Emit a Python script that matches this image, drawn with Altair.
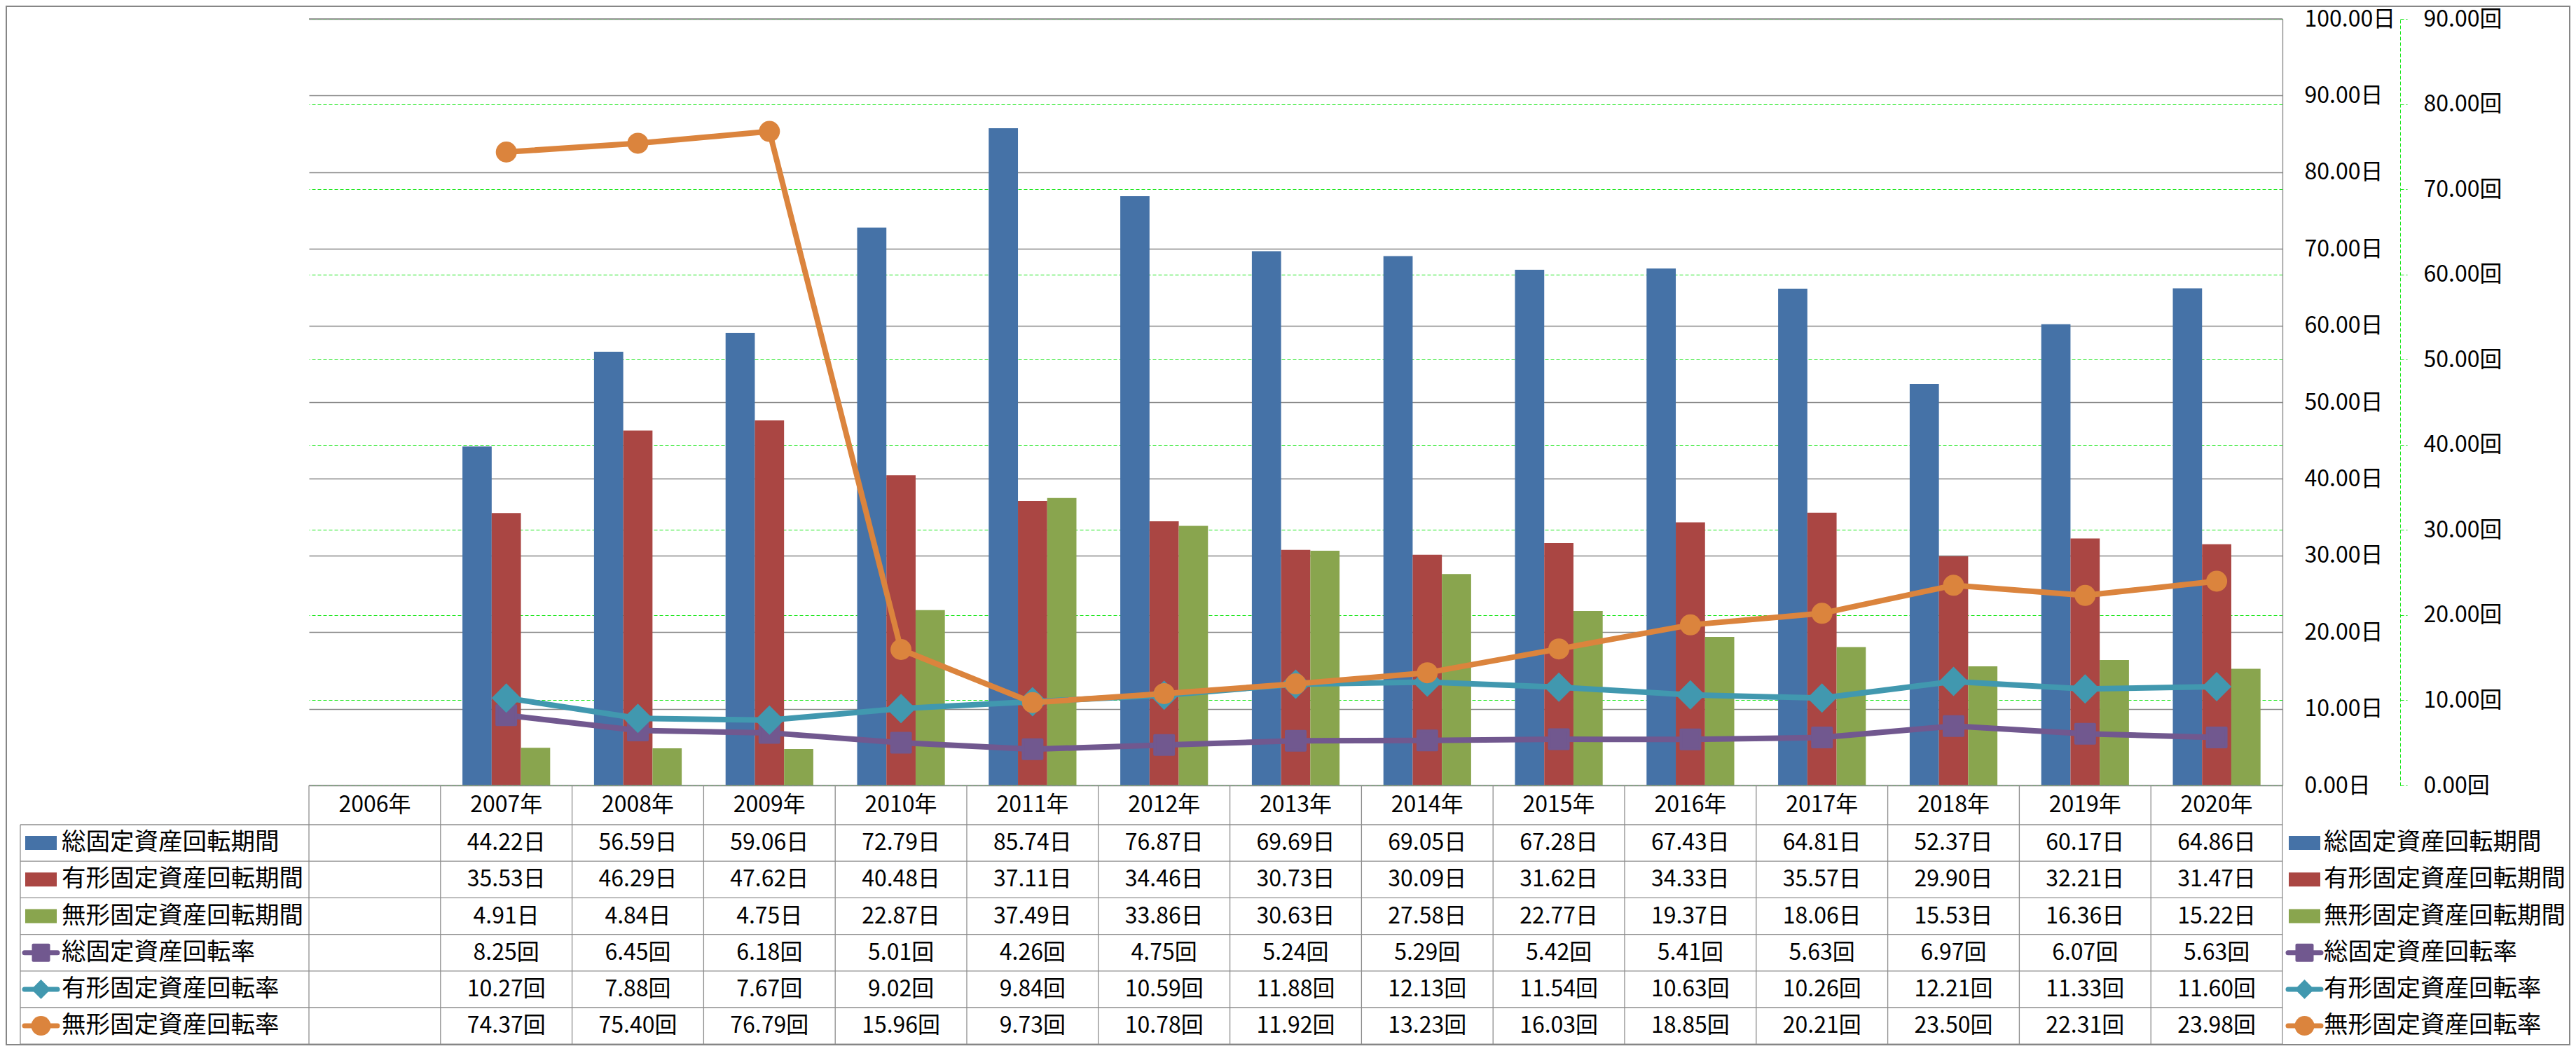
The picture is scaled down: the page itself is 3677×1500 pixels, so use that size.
import altair as alt
import pandas as pd

# ---------------- data ----------------
years = ["2006年", "2007年", "2008年", "2009年", "2010年", "2011年", "2012年", "2013年",
         "2014年", "2015年", "2016年", "2017年", "2018年", "2019年", "2020年"]

bar_series = ["総固定資産回転期間", "有形固定資産回転期間", "無形固定資産回転期間"]
line_series = ["総固定資産回転率", "有形固定資産回転率", "無形固定資産回転率"]

total_period = [None, 44.22, 56.59, 59.06, 72.79, 85.74, 76.87, 69.69, 69.05, 67.28, 67.43, 64.81, 52.37, 60.17, 64.86]
tangible_period = [None, 35.53, 46.29, 47.62, 40.48, 37.11, 34.46, 30.73, 30.09, 31.62, 34.33, 35.57, 29.90, 32.21, 31.47]
intangible_period = [None, 4.91, 4.84, 4.75, 22.87, 37.49, 33.86, 30.63, 27.58, 22.77, 19.37, 18.06, 15.53, 16.36, 15.22]

total_rate = [None, 8.25, 6.45, 6.18, 5.01, 4.26, 4.75, 5.24, 5.29, 5.42, 5.41, 5.63, 6.97, 6.07, 5.63]
tangible_rate = [None, 10.27, 7.88, 7.67, 9.02, 9.84, 10.59, 11.88, 12.13, 11.54, 10.63, 10.26, 12.21, 11.33, 11.60]
intangible_rate = [None, 74.37, 75.40, 76.79, 15.96, 9.73, 10.78, 11.92, 13.23, 16.03, 18.85, 20.21, 23.50, 22.31, 23.98]

day_ticks = [0, 10, 20, 30, 40, 50, 60, 70, 80, 90, 100]
kai_ticks = [0, 10, 20, 30, 40, 50, 60, 70, 80, 90]

bar_colors = ["#4572A7", "#AA4643", "#89A54E"]
line_colors = ["#71588F", "#4198AF", "#DB843D"]
line_shapes = ["square", "diamond", "circle"]

# ---------------- layout constants ----------------
FONT = "Noto Sans CJK JP"
FS = 32
FS_LABEL = 34.5
W, H = 2817, 1094
PAD = {"left": 433, "top": 19, "right": 411, "bottom": 371}
STEP = W / len(years)
HEAD_BOTTOM = H + 56
ROW_H = 52.2
TABLE_BOTTOM = HEAD_BOTTOM + 6 * ROW_H
LABEL_LEFT = -412
GRID_GRAY = "#878787"
TABLE_GRAY = "#8E8E8E"
GREEN = "#19E619"

xscale = alt.Scale(domain=years, paddingInner=1 / 3, paddingOuter=1 / 6)
dummy = pd.DataFrame({"k": [0]})

# ---------------- bars ----------------
bar_values = [total_period, tangible_period, intangible_period]
bar_rows = []
for s, vals in zip(bar_series, bar_values):
    for y, v in zip(years, vals):
        if v is not None:
            bar_rows.append({"year": y, "series": s, "value": v})
bar_df = pd.DataFrame(bar_rows)

bars = alt.Chart(bar_df).mark_bar().encode(
    x=alt.X("year:N", scale=xscale, axis=None),
    xOffset=alt.XOffset("series:N", scale=alt.Scale(domain=bar_series, paddingInner=0, paddingOuter=0)),
    y=alt.Y("value:Q", scale=alt.Scale(domain=[0, 100], nice=False),
            axis=alt.Axis(orient="right", values=day_ticks, title=None,
                          labelExpr="format(datum.value, '.2f') + '日'",
                          grid=True, gridColor=GRID_GRAY, gridWidth=1.3,
                          domain=True, domainColor=GRID_GRAY, domainWidth=1.3,
                          ticks=False, tickSize=0, labelPadding=31,
                          labelFont=FONT, labelFontSize=FS, labelColor="#000000",
                          labelOverlap=False)),
    color=alt.Color("series:N", scale=alt.Scale(domain=bar_series, range=bar_colors), legend=None),
)

# ---------------- lines ----------------
rate_values = [total_rate, tangible_rate, intangible_rate]
kai_axis = alt.Axis(orient="right", offset=168, values=kai_ticks, title=None,
                    labelExpr="format(datum.value, '.2f') + '回'",
                    grid=True, gridColor=GREEN, gridDash=[5, 3], gridWidth=1,
                    domain=True, domainColor=GREEN, domainDash=[5, 3], domainWidth=1,
                    ticks=True, tickColor=GREEN, tickDash=[5, 3], tickSize=10, tickWidth=1,
                    labelPadding=23, labelFont=FONT, labelFontSize=FS, labelColor="#000000",
                    labelOverlap=False)
line_layers = []
for s, vals, c, shp in zip(line_series, rate_values, line_colors, line_shapes):
    df = pd.DataFrame([{"year": y, "value": v} for y, v in zip(years, vals) if v is not None])
    enc = dict(
        x=alt.X("year:N", scale=xscale, axis=None, bandPosition=0.5),
        y=alt.Y("value:Q", scale=alt.Scale(domain=[0, 90], nice=False), axis=kai_axis),
    )
    line_layers.append(alt.Chart(df).mark_line(color=c, strokeWidth=8, strokeJoin="round", strokeCap="round").encode(**enc))
    if shp == "square":
        pt = alt.Chart(df).mark_point(shape="square", filled=True, size=729, color=c, opacity=1,
                                      stroke=c, strokeWidth=4, strokeJoin="round")
    elif shp == "diamond":
        pt = alt.Chart(df).mark_point(shape="diamond", filled=True, size=1764, color=c, opacity=1)
    else:
        pt = alt.Chart(df).mark_point(shape="circle", filled=True, size=900, color=c, opacity=1)
    line_layers.append(pt.encode(**enc))
lines = alt.layer(*line_layers)

# ---------------- table ----------------
table_layers = []
# top gridline (gray, over the green one)
table_layers.append(alt.Chart(dummy).mark_rule(color=GRID_GRAY, strokeWidth=1.3).encode(
    x=alt.value(0), x2=alt.value(W), y=alt.value(0)))
# header years
hdr = pd.DataFrame({"year": years})
table_layers.append(alt.Chart(hdr).mark_text(font=FONT, fontSize=FS, color="#000000", baseline="middle").encode(
    x=alt.X("year:N", scale=xscale, axis=None, bandPosition=0.5),
    y=alt.value(H + 28),
    text="year:N",
))
# cell values
all_series = bar_series + line_series
all_values = bar_values + rate_values
units = ["日", "日", "日", "回", "回", "回"]
for i, (s, vals, u) in enumerate(zip(all_series, all_values, units)):
    cy = HEAD_BOTTOM + ROW_H * (i + 0.5)
    df = pd.DataFrame([{"year": y, "label": f"{v:.2f}{u}"} for y, v in zip(years, vals) if v is not None])
    table_layers.append(alt.Chart(df).mark_text(font=FONT, fontSize=FS, color="#000000", baseline="middle").encode(
        x=alt.X("year:N", scale=xscale, axis=None, bandPosition=0.5),
        y=alt.value(cy),
        text="label:N",
    ))
    # legend keys + labels (left in table, right as legend)
    for kx, tx in [(LABEL_LEFT + 7, LABEL_LEFT + 59), (W + 9, W + 59)]:
        if i < 3:
            table_layers.append(alt.Chart(dummy).mark_rect(color=bar_colors[i]).encode(
                x=alt.value(kx), x2=alt.value(kx + 45), y=alt.value(cy - 10), y2=alt.value(cy + 10)))
        else:
            c = line_colors[i - 3]
            table_layers.append(alt.Chart(dummy).mark_rule(color=c, strokeWidth=7, strokeCap="round").encode(
                x=alt.value(kx - 1), x2=alt.value(kx + 46), y=alt.value(cy)))
            shp = line_shapes[i - 3]
            if shp == "square":
                mk = alt.Chart(dummy).mark_point(shape="square", filled=True, size=484, color=c, opacity=1,
                                                 stroke=c, strokeWidth=4, strokeJoin="round")
            elif shp == "diamond":
                mk = alt.Chart(dummy).mark_point(shape="diamond", filled=True, size=760, color=c, opacity=1)
            else:
                mk = alt.Chart(dummy).mark_point(shape="circle", filled=True, size=784, color=c, opacity=1)
            table_layers.append(mk.encode(x=alt.value(kx + 22.5), y=alt.value(cy)))
        table_layers.append(alt.Chart(dummy).mark_text(font=FONT, fontSize=FS_LABEL, color="#000000",
                                                       align="left", baseline="middle", text=s).encode(
            x=alt.value(tx), y=alt.value(cy)))

# table grid lines
table_layers.append(alt.Chart(dummy).mark_rule(color=TABLE_GRAY, strokeWidth=1.3).encode(
    x=alt.value(0), x2=alt.value(W), y=alt.value(H)))
for i in range(7):
    yy = HEAD_BOTTOM + ROW_H * i
    table_layers.append(alt.Chart(dummy).mark_rule(color=TABLE_GRAY, strokeWidth=1.3).encode(
        x=alt.value(LABEL_LEFT), x2=alt.value(W), y=alt.value(yy)))
table_layers.append(alt.Chart(hdr).mark_rule(color=TABLE_GRAY, strokeWidth=1.3, xOffset=-STEP / 6).encode(
    x=alt.X("year:N", scale=xscale, axis=None, bandPosition=0),
    y=alt.value(H), y2=alt.value(TABLE_BOTTOM)))
table_layers.append(alt.Chart(dummy).mark_rule(color=TABLE_GRAY, strokeWidth=1.3).encode(
    x=alt.value(W), y=alt.value(H), y2=alt.value(TABLE_BOTTOM)))
table_layers.append(alt.Chart(dummy).mark_rule(color=TABLE_GRAY, strokeWidth=1.3).encode(
    x=alt.value(LABEL_LEFT), y=alt.value(HEAD_BOTTOM), y2=alt.value(TABLE_BOTTOM)))

# outer frame
frame = alt.Chart(dummy).mark_rect(fillOpacity=0, stroke="#868686", strokeWidth=2).encode(
    x=alt.value(-PAD["left"] + 1), x2=alt.value(W + PAD["right"] - 1),
    y=alt.value(-PAD["top"] + 1), y2=alt.value(H + PAD["bottom"] - 1))

chart = alt.layer(bars, lines, *table_layers, frame).resolve_scale(y="independent").properties(
    width=W, height=H, padding=PAD, autosize=alt.AutoSizeParams(type="none"),
    background="#FFFFFF",
).configure_view(strokeWidth=0)

chart.save("out.html", embed_options={"renderer": "svg", "actions": False})
